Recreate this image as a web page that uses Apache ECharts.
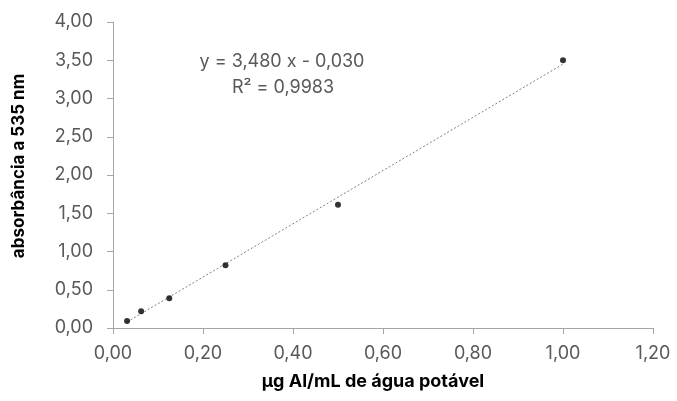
<!DOCTYPE html>
<html><head><meta charset="utf-8">
<script src="https://cdn.jsdelivr.net/npm/echarts@6/dist/echarts.min.js"></script>
<style>html,body{margin:0;padding:0;background:#fff}#c{width:677px;height:401px}</style>
</head><body><div id="c"></div>
<script>
const concentrations = [0.03125, 0.0625, 0.125, 0.25, 0.5, 1.0];
const absorbances = [0.09, 0.22, 0.39, 0.82, 1.61, 3.50];
const slope = 3.480, intercept = -0.030;
const eqLabel = 'y = 3,480 x - 0,030';
const r2Label = 'R² = 0,9983';
const xTitle = 'µg Al/mL de água potável';
const yTitle = 'absorbância a 535 nm';

const xs = [concentrations[0], concentrations[concentrations.length-1]];
const trend = xs.map(x => [x, slope*x + intercept]);
const fmt = v => v.toFixed(2).replace('.', ',');

const chart = echarts.init(document.getElementById('c'));
chart.setOption({
  animation:false,
  grid:{left:113, right:24, top:22, bottom:73},
  xAxis:{type:'value', min:0, max:1.2, interval:0.2,
    axisLine:{show:true, lineStyle:{color:'#a6a6a6', width:1}},
    axisTick:{show:true, length:6, lineStyle:{color:'#a6a6a6'}},
    splitLine:{show:false},
    axisLabel:{formatter:fmt, color:'#595959', fontSize:18, fontFamily:'Inter', margin:17}},
  yAxis:{type:'value', min:0, max:4, interval:0.5,
    axisLine:{show:true, lineStyle:{color:'#a6a6a6', width:1}},
    axisTick:{show:true, length:6, lineStyle:{color:'#a6a6a6'}},
    splitLine:{show:false},
    axisLabel:{formatter:fmt, color:'#595959', fontSize:18, fontFamily:'Inter', margin:20}},
  series:[
    {type:'line', data:trend, symbol:'none', silent:true,
     lineStyle:{color:'#7f7f7f', width:1, type:[2,2]}, z:1},
    {type:'scatter', data:concentrations.map((x,i)=>[x, absorbances[i]]),
     symbol:'circle', symbolSize:6, itemStyle:{color:'#000'}, z:3}
  ],
  graphic:[
    {type:'text', x:282, y:62, style:{text:eqLabel, fill:'#595959', fontSize:18, fontFamily:'Inter', align:'center', verticalAlign:'middle'}},
    {type:'text', x:283, y:88, style:{text:r2Label, fill:'#595959', fontSize:18, fontFamily:'Inter', align:'center', verticalAlign:'middle'}},
    {type:'text', x:373, y:382, style:{text:xTitle, fill:'#000', fontSize:18, fontWeight:'bold', fontFamily:'Inter', align:'center', verticalAlign:'middle'}},
    {type:'text', x:19, y:166, rotation:Math.PI/2, style:{text:yTitle, fill:'#000', fontSize:17, fontWeight:'bold', fontFamily:'Inter', align:'center', verticalAlign:'middle'}}
  ]
});
</script></body></html>
